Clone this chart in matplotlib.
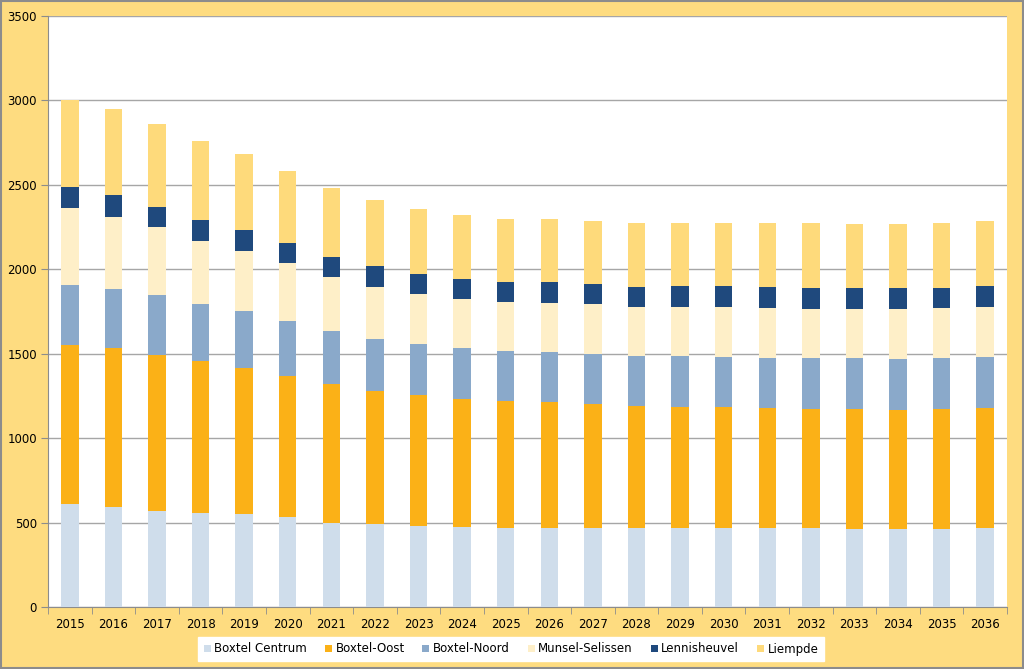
#!/usr/bin/python3

import matplotlib
matplotlib.use("Agg")
import matplotlib.pyplot as plt
from matplotlib.patches import Rectangle
import numpy as np

#data, persons per district
years = [str(i) for i in range(2015, 2037)]

centrum = [610, 595, 568, 555, 549, 531, 499, 490, 481, 476, 470, 470, 466, 466, 466, 466, 466, 466, 462, 460, 460, 470]
oost = [942, 937, 924, 900, 864, 837, 820, 789, 774, 754, 750, 742, 734, 724, 720, 717, 714, 709, 709, 707, 711, 708]
noord = [355, 349, 356, 341, 342, 327, 315, 308, 302, 302, 296, 296, 297, 298, 300, 299, 296, 298, 302, 300, 302, 301]
munsel = [456, 429, 401, 373, 353, 344, 320, 310, 297, 294, 292, 294, 296, 290, 292, 293, 293, 294, 290, 296, 298, 296]
lenni = [124, 130, 122, 123, 125, 118, 121, 122, 120, 116, 118, 121, 118, 119, 121, 124, 124, 122, 124, 124, 120, 124]
liempde = [515, 507, 488, 469, 450, 427, 405, 391, 381, 379, 374, 373, 375, 379, 377, 377, 383, 383, 381, 379, 381, 385]

names = ["Boxtel Centrum", "Boxtel-Oost", "Boxtel-Noord", "Munsel-Selissen", "Lennisheuvel", "Liempde"]
yticks = [0, 500, 1000, 1500, 2000, 2500, 3000, 3500]

#_____________________________________________________________________________
def main():

    series = [centrum, oost, noord, munsel, lenni, liempde]
    colors = ["#CFDDEB", "#FBB117", "#8AA9CA", "#FEEFC8", "#1F497D", "#FEDA7B"]

    frame_col = "#FEDC80"
    axis_col = "#8C8C8C"

    plt.rcParams["font.family"] = ["DejaVu Sans"]

    fig = plt.figure(figsize=(10.24, 6.69), dpi=100)
    fig.patch.set_facecolor(frame_col)

    ax = fig.add_axes([48/1024, 62/669, 959/1024, 591/669])
    ax.set_facecolor("white")

    x = np.arange(len(years))
    bottom = np.zeros(len(years))
    for vals, col, lab in zip(series, colors, names):
        ax.bar(x, vals, 0.4, bottom=bottom, color=col, label=lab, zorder=3)
        bottom += np.array(vals)

    ax.set_xlim(-0.5, len(years)-0.5)
    ax.set_ylim(0, 3500)

    #y axis
    ax.set_yticks(yticks)
    ax.set_yticklabels([str(v) for v in yticks])
    ax.yaxis.grid(True, color="#A6A6A6", linewidth=1)
    ax.set_axisbelow(True)

    #x axis, labels at centers and ticks at boundaries
    ax.set_xticks(x)
    ax.set_xticklabels(years)
    ax.set_xticks(np.arange(len(years)+1)-0.5, minor=True)
    ax.tick_params(axis="x", which="major", length=0, pad=8)
    ax.tick_params(axis="x", which="minor", length=5, color=axis_col, direction="out")
    ax.tick_params(axis="y", length=5, color=axis_col, direction="out", pad=3)
    ax.tick_params(labelsize=8.5, labelcolor="black")

    ax.spines["top"].set_visible(False)
    ax.spines["right"].set_visible(False)
    ax.spines["left"].set_color(axis_col)
    ax.spines["bottom"].set_color(axis_col)

    #legend at the bottom
    leg = fig.legend(loc="center", bbox_to_anchor=(511/1024, 20/669), ncol=6,
                     fontsize=8.5, frameon=True, fancybox=False, framealpha=1,
                     handlelength=0.6, handleheight=0.6, handletextpad=0.3,
                     columnspacing=1.5, borderpad=0.5, borderaxespad=0)
    leg.get_frame().set_facecolor("white")
    leg.get_frame().set_edgecolor("white")

    #outer border
    fig.patches.append(Rectangle((0.001, 0.001), 0.998, 0.998, transform=fig.transFigure,
                                 fill=False, edgecolor="#8C8C8C", linewidth=1.5))

    fig.savefig("out.png", dpi=100, facecolor=fig.get_facecolor())
    plt.close()

#main

#_____________________________________________________________________________
if __name__ == "__main__":

    main()
